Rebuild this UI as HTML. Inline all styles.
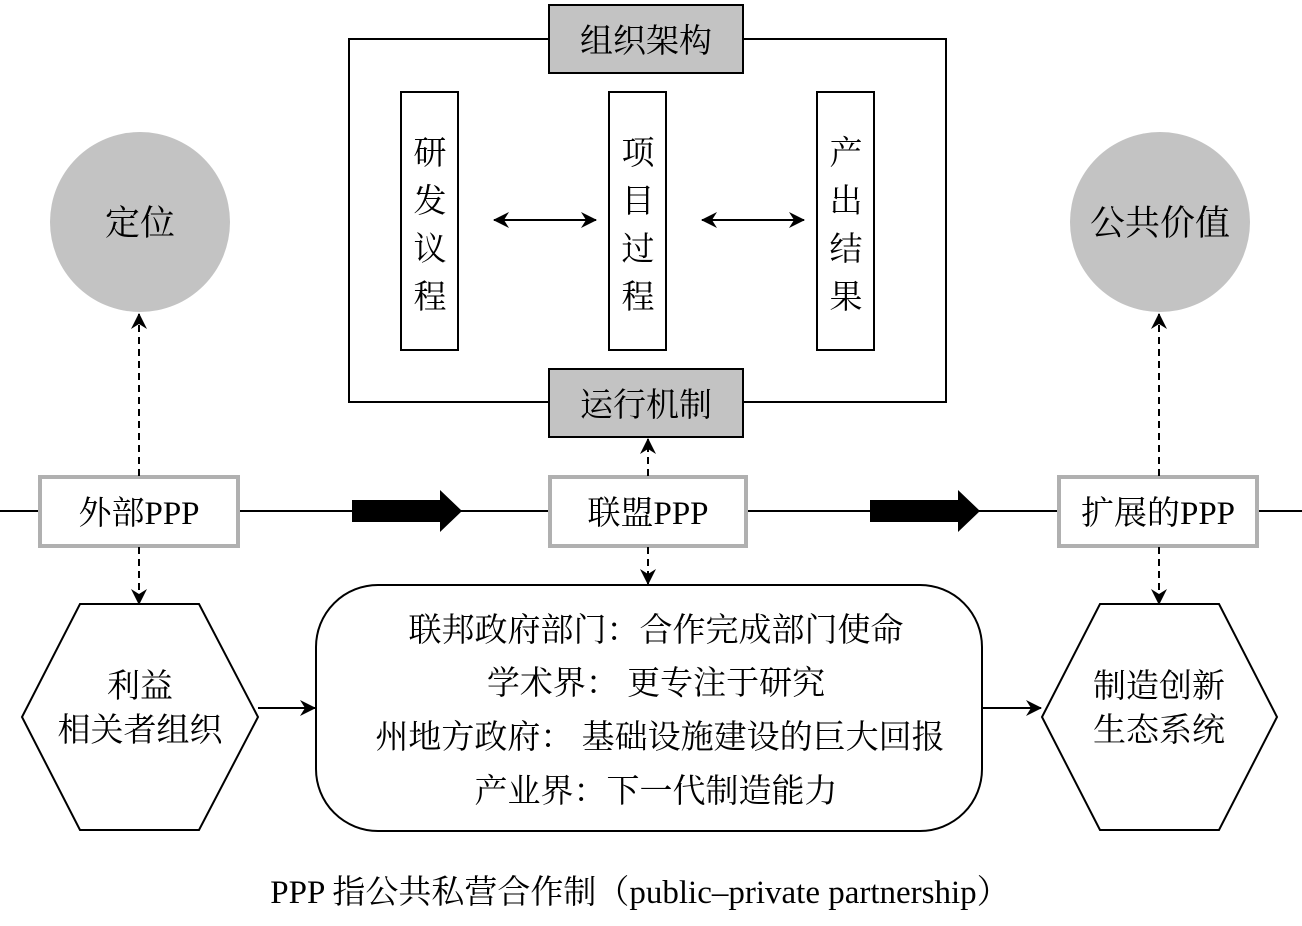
<!DOCTYPE html>
<html><head><meta charset="utf-8"><style>
body{margin:0;background:#fff;}
svg text{font-family:"Liberation Serif","Noto Serif CJK SC","Noto Sans CJK SC",serif;fill:#000;}
</style></head><body>
<svg width="1302" height="921" viewBox="0 0 1302 921" xmlns="http://www.w3.org/2000/svg">
<defs>
<marker id="a" viewBox="0 0 16 16" refX="15" refY="8" markerWidth="16" markerHeight="16" markerUnits="userSpaceOnUse" orient="auto-start-reverse">
<path d="M0,0 L16,8 L0,16 L5,8 Z" fill="#000"/></marker>
</defs>
<rect x="349" y="39" width="597" height="363" fill="none" stroke="#000" stroke-width="2"/>
<rect x="549" y="5" width="194" height="68" fill="#c3c3c3" stroke="#000" stroke-width="2"/>
<text x="646" y="52" font-size="33" text-anchor="middle">组织架构</text>
<rect x="549" y="369" width="194" height="68" fill="#c3c3c3" stroke="#000" stroke-width="2"/>
<text x="646" y="416" font-size="33" text-anchor="middle">运行机制</text>
<rect x="401" y="92" width="57" height="258" fill="#fff" stroke="#000" stroke-width="2"/>
<rect x="609" y="92" width="57" height="258" fill="#fff" stroke="#000" stroke-width="2"/>
<rect x="817" y="92" width="57" height="258" fill="#fff" stroke="#000" stroke-width="2"/>
<g font-size="33" text-anchor="middle">
<text x="430" y="164">研</text><text x="430" y="212">发</text><text x="430" y="260">议</text><text x="430" y="308">程</text>
<text x="638" y="164">项</text><text x="638" y="212">目</text><text x="638" y="260">过</text><text x="638" y="308">程</text>
<text x="846" y="164">产</text><text x="846" y="212">出</text><text x="846" y="260">结</text><text x="846" y="308">果</text>
</g>
<line x1="494" y1="220" x2="596" y2="220" stroke="#000" stroke-width="2" marker-start="url(#a)" marker-end="url(#a)"/>
<line x1="702" y1="220" x2="804" y2="220" stroke="#000" stroke-width="2" marker-start="url(#a)" marker-end="url(#a)"/>
<circle cx="140" cy="222" r="90" fill="#c3c3c3"/>
<text x="140" y="235" font-size="35" text-anchor="middle">定位</text>
<circle cx="1160" cy="222" r="90" fill="#c3c3c3"/>
<text x="1160" y="235" font-size="35" text-anchor="middle">公共价值</text>
<line x1="0" y1="511" x2="1302" y2="511" stroke="#000" stroke-width="2"/>
<path d="M352,500 H440 V490 L462,511 L440,532 V522 H352 Z" fill="#000"/>
<path d="M870,500 H958 V490 L980,511 L958,532 V522 H870 Z" fill="#000"/>
<rect x="40" y="477" width="198" height="69" fill="#fff" stroke="#b0b0b0" stroke-width="4"/>
<text x="139" y="524" font-size="33" text-anchor="middle">外部PPP</text>
<rect x="550" y="477" width="196" height="69" fill="#fff" stroke="#b0b0b0" stroke-width="4"/>
<text x="648" y="524" font-size="33" text-anchor="middle">联盟PPP</text>
<rect x="1059" y="477" width="198" height="69" fill="#fff" stroke="#b0b0b0" stroke-width="4"/>
<text x="1158" y="524" font-size="33" text-anchor="middle">扩展的PPP</text>
<g stroke="#000" stroke-width="2" stroke-dasharray="7,5" fill="none">
<line x1="139" y1="476" x2="139" y2="314" marker-end="url(#a)"/>
<line x1="139" y1="547" x2="139" y2="604" marker-end="url(#a)"/>
<line x1="648" y1="476" x2="648" y2="439" marker-end="url(#a)"/>
<line x1="648" y1="547" x2="648" y2="584" marker-end="url(#a)"/>
<line x1="1159" y1="476" x2="1159" y2="314" marker-end="url(#a)"/>
<line x1="1159" y1="547" x2="1159" y2="604" marker-end="url(#a)"/>
</g>
<polygon points="80,604 199,604 258,717 199,830 80,830 22,717" fill="#fff" stroke="#000" stroke-width="2"/>
<text x="140" y="697" font-size="33" text-anchor="middle">利益</text>
<text x="140" y="741" font-size="33" text-anchor="middle">相关者组织</text>
<polygon points="1100,604 1219,604 1277,717 1219,830 1100,830 1042,717" fill="#fff" stroke="#000" stroke-width="2"/>
<text x="1159" y="697" font-size="33" text-anchor="middle">制造创新</text>
<text x="1159" y="741" font-size="33" text-anchor="middle">生态系统</text>
<rect x="316" y="585" width="666" height="246" rx="62" fill="#fff" stroke="#000" stroke-width="2"/>
<g font-size="33" text-anchor="middle">
<text x="656" y="641">联邦政府部门：合作完成部门使命</text>
<text x="656" y="694">学术界： 更专注于研究</text>
<text x="660" y="748">州地方政府： 基础设施建设的巨大回报</text>
<text x="656" y="802">产业界：下一代制造能力</text>
</g>
<line x1="258" y1="708" x2="315" y2="708" stroke="#000" stroke-width="2" marker-end="url(#a)"/>
<line x1="982" y1="708" x2="1041" y2="708" stroke="#000" stroke-width="2" marker-end="url(#a)"/>
<text x="640" y="903" font-size="33" text-anchor="middle">PPP 指公共私营合作制（public–private partnership）</text>
</svg>
</body></html>
